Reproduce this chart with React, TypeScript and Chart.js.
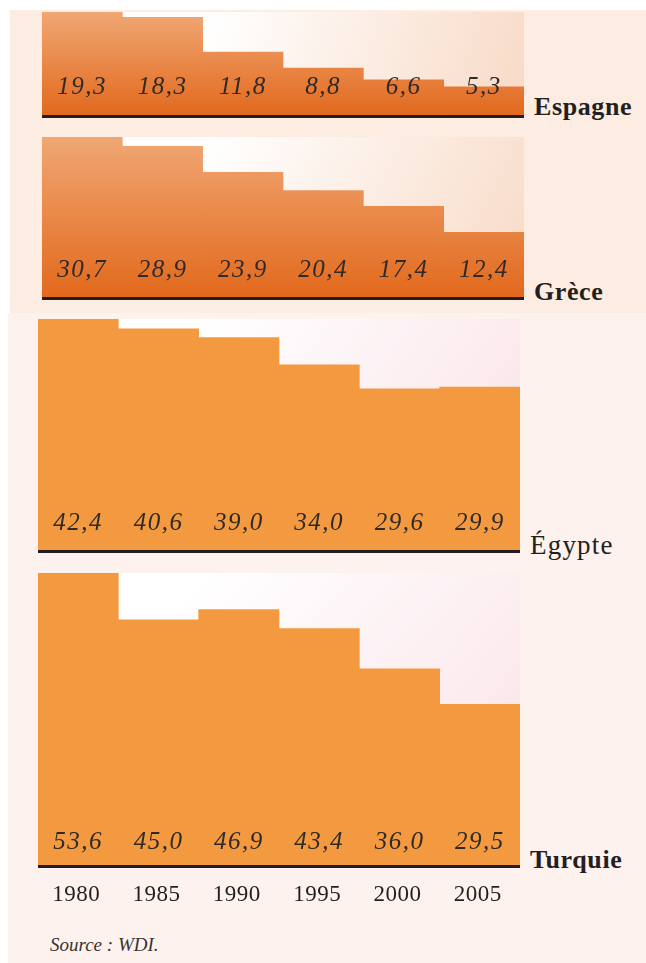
import React, { useEffect, useRef } from "react";
import { Chart, registerables } from "chart.js";

Chart.register(...registerables);

const years = ["1980", "1985", "1990", "1995", "2000", "2005"];
const espagne = [19.3, 18.3, 11.8, 8.8, 6.6, 5.3];
const grece = [30.7, 28.9, 23.9, 20.4, 17.4, 12.4];
const egypte = [42.4, 40.6, 39.0, 34.0, 29.6, 29.9];
const turquie = [53.6, 45.0, 46.9, 43.4, 36.0, 29.5];
const countryNames = ["Espagne", "Grèce", "Égypte", "Turquie"];
const sourceText = "Source : WDI.";

const SERIF = "'Liberation Serif', 'DejaVu Serif', serif";

type PanelProps = {
  values: number[];
  left: number;
  top: number;
  width: number;
  height: number;
  variant: "top" | "bottom";
  showYears?: boolean;
  labelOffset: number;
};

function Panel({ values, left, top, width, height, variant, showYears, labelOffset }: PanelProps) {
  const ref = useRef<HTMLCanvasElement | null>(null);
  const padBottom = showYears ? 50 : 4;
  const canvasH = height + padBottom;

  useEffect(() => {
    if (!ref.current) return;
    const decor = {
      id: "decor",
      beforeDatasetsDraw(chart: any) {
        const { ctx, chartArea: a } = chart;
        ctx.save();
        const g = ctx.createLinearGradient(a.left + (a.right - a.left) * 0.35, a.top, a.right, a.bottom);
        if (variant === "top") {
          g.addColorStop(0, "#ffffff");
          g.addColorStop(1, "#f8dac6");
        } else {
          g.addColorStop(0, "#ffffff");
          g.addColorStop(1, "#fae0e6");
        }
        ctx.fillStyle = g;
        ctx.fillRect(a.left, a.top, a.right - a.left, a.bottom - a.top);
        ctx.restore();
      },
      afterDatasetsDraw(chart: any) {
        const { ctx, chartArea: a } = chart;
        const meta = chart.getDatasetMeta(0);
        ctx.save();
        // baseline
        ctx.fillStyle = "#231f20";
        ctx.fillRect(a.left, a.bottom, a.right - a.left, 3);
        // value labels
        ctx.font = `italic 25px ${SERIF}`;
        (ctx as any).letterSpacing = "1.5px";
        ctx.fillStyle = "#2f2a28";
        ctx.textAlign = "center";
        ctx.textBaseline = "middle";
        meta.data.forEach((bar: any, i: number) => {
          const v = chart.data.datasets[0].data[i] as number;
          ctx.fillText(v.toFixed(1).replace(".", ","), bar.x, a.bottom - labelOffset);
        });
        if (showYears) {
          ctx.font = `23px ${SERIF}`;
          (ctx as any).letterSpacing = "0.5px";
          ctx.fillStyle = "#231f20";
          meta.data.forEach((bar: any, i: number) => {
            ctx.fillText(chart.data.labels[i], bar.x - 2, a.bottom + 30);
          });
        }
        ctx.restore();
      },
    };

    const chart = new Chart(ref.current, {
      type: "bar",
      data: {
        labels: years,
        datasets: [
          {
            data: values,
            backgroundColor: (c: any) => {
              if (variant === "bottom") return "#f39a40";
              const a = c.chart.chartArea;
              if (!a) return "#e8853f";
              const g = c.chart.ctx.createLinearGradient(0, a.top, 0, a.bottom);
              g.addColorStop(0, "#f0a774");
              g.addColorStop(1, "#e2691d");
              return g;
            },
            borderWidth: 0,
            barPercentage: 1,
            categoryPercentage: 1,
          },
        ],
      },
      options: {
        animation: false,
        responsive: false,
        devicePixelRatio: 1,
        layout: { padding: { left: 0, right: 0, top: 0, bottom: padBottom } },
        plugins: { legend: { display: false }, tooltip: { enabled: false } },
        scales: {
          x: { display: false },
          y: { display: false, min: 0, max: Math.max(...values) },
        },
      },
      plugins: [decor],
    });
    return () => chart.destroy();
  }, []);

  return (
    <canvas
      ref={ref}
      width={width}
      height={canvasH}
      style={{ position: "absolute", left, top, width, height: canvasH }}
    />
  );
}

const labelStyle = (left: number, top: number, bold: boolean, size: number): React.CSSProperties => ({
  position: "absolute",
  left,
  top,
  fontFamily: SERIF,
  fontSize: size,
  fontWeight: bold ? 700 : 400,
  letterSpacing: bold ? "0.6px" : "1.2px",
  color: "#231f20",
  lineHeight: "30px",
  whiteSpace: "nowrap",
});

export default function App() {
  useEffect(() => {
    document.body.style.margin = "0";
  }, []);
  return (
    <div style={{ position: "absolute", left: 0, top: 0, width: 646, height: 963, background: "#ffffff", overflow: "hidden" }}>
      <div style={{ position: "absolute", left: 10, top: 10, width: 636, height: 303, background: "#fcece1" }} />
      <div style={{ position: "absolute", left: 8, top: 313, width: 638, height: 650, background: "#fdf2ed" }} />
      <Panel values={espagne} left={42} top={12} width={482} height={103} variant="top" labelOffset={28} />
      <Panel values={grece} left={42} top={137} width={482} height={160} variant="top" labelOffset={27} />
      <Panel values={egypte} left={38} top={319} width={482} height={231} variant="bottom" labelOffset={27} />
      <Panel values={turquie} left={38} top={573} width={482} height={292} variant="bottom" labelOffset={23} showYears />
      <div style={labelStyle(534, 92, true, 26)}>{countryNames[0]}</div>
      <div style={labelStyle(534, 277, true, 26)}>{countryNames[1]}</div>
      <div style={labelStyle(530, 530, false, 27)}>{countryNames[2]}</div>
      <div style={labelStyle(530, 845, true, 26)}>{countryNames[3]}</div>
      <div
        style={{
          position: "absolute",
          left: 50,
          top: 934,
          fontFamily: SERIF,
          fontStyle: "italic",
          fontSize: 19,
          color: "#3a3230",
          lineHeight: "22px",
        }}
      >
        {sourceText}
      </div>
    </div>
  );
}
